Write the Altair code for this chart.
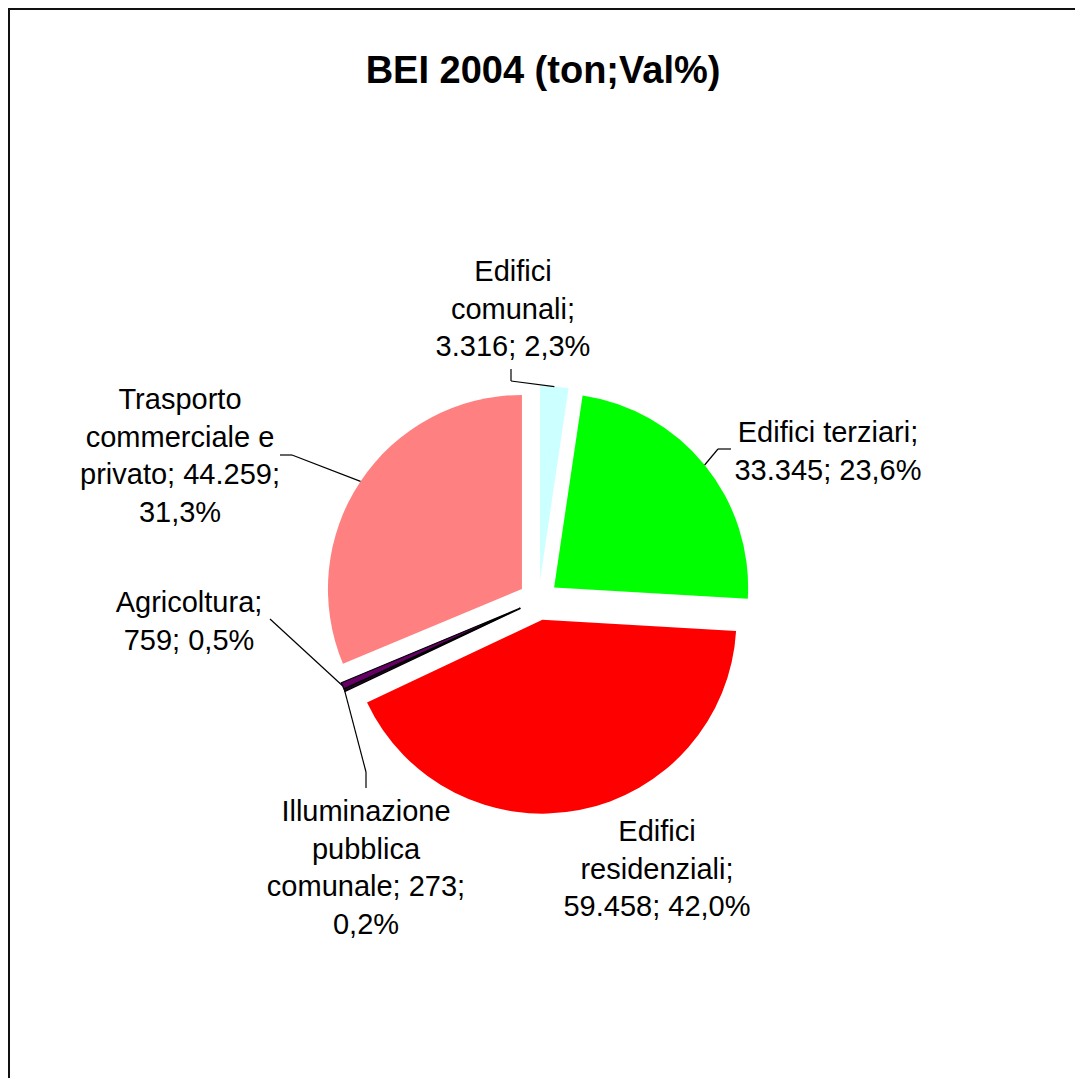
import altair as alt
import pandas as pd

# ---- data ----
categories = [
    "Edifici comunali",
    "Edifici terziari",
    "Edifici residenziali",
    "Illuminazione pubblica comunale",
    "Agricoltura",
    "Trasporto commerciale e privato",
]
values = [3316, 33345, 59458, 273, 759, 44259]
label_lines = [
    ["Edifici", "comunali;", "3.316; 2,3%"],
    ["Edifici terziari;", "33.345; 23,6%"],
    ["Edifici", "residenziali;", "59.458; 42,0%"],
    ["Illuminazione", "pubblica", "comunale; 273;", "0,2%"],
    ["Agricoltura;", "759; 0,5%"],
    ["Trasporto", "commerciale e", "privato; 44.259;", "31,3%"],
]
title_text = "BEI 2004 (ton;Val%)"

# ---- styles ----
colors = ["#CCFFFF", "#00FF00", "#FF0000", "#330033", "#660066", "#FF8080"]
outline = [0, 0, 0, 1.2, 1.2, 0]

# ---- layout (page pixels, page margin subtracted below) ----
OFF = 8
W, H = 1067, 1070
CX, CY = 538.6 - OFF, 600 - OFF   # pie centre
R = 194                            # pie radius
D = 20                             # explosion distance
# (centre x, first-line y) of each label block
label_xy = [(513, 272), (828, 433), (657, 832), (366, 812), (189, 603), (180, 400)]
leader_start = [(511, 369), (731, 449), (None, None), (366, 788), (270, 619), (280, 455)]
leader_elbow = [(511, 381), (718, 449), (None, None), (366, 772), (270, 619), (292, 455)]


def sh(v):
    return None if v is None else v - OFF


df = pd.DataFrame({
    "cat": categories,
    "value": values,
    "order": list(range(len(categories))),
    "label": ["\n".join(l) for l in label_lines],
    "outline": outline,
    "tx": [sh(p[0]) for p in label_xy],
    "ty": [sh(p[1]) for p in label_xy],
    "lx0": [sh(p[0]) for p in leader_start],
    "ly0": [sh(p[1]) for p in leader_start],
    "lx1": [sh(p[0]) for p in leader_elbow],
    "ly1": [sh(p[1]) for p in leader_elbow],
})

base = (
    alt.Chart(df)
    .transform_window(cum="sum(value)", sort=[alt.SortField("order")], frame=[None, 0])
    .transform_joinaggregate(total="sum(value)")
    .transform_calculate(
        a0="2*PI*(datum.cum - datum.value)/datum.total",
        a1="2*PI*datum.cum/datum.total",
    )
    .transform_calculate(mid="(datum.a0 + datum.a1)/2")
    .transform_calculate(
        px=f"{CX} + {D}*sin(datum.mid)",
        py=f"{CY} - {D}*cos(datum.mid)",
        ax=f"{CX} + {D + R}*sin(datum.mid)",
        ay=f"{CY} - {D + R}*cos(datum.mid)",
    )
)

pie = base.mark_arc(outerRadius=R, stroke="black").encode(
    theta=alt.Theta("a0:Q", scale=None),
    theta2="a1:Q",
    x=alt.X("px:Q", scale=None, axis=None),
    y=alt.Y("py:Q", scale=None, axis=None),
    color=alt.Color("cat:N", scale=alt.Scale(domain=categories, range=colors), legend=None),
    strokeWidth=alt.StrokeWidth("outline:Q", scale=None),
)

lead1 = base.transform_filter("isValid(datum.lx0)").mark_rule(color="black", strokeWidth=1.2).encode(
    x=alt.X("lx0:Q", scale=None, axis=None),
    y=alt.Y("ly0:Q", scale=None, axis=None),
    x2="lx1:Q",
    y2="ly1:Q",
)
lead2 = base.transform_filter("isValid(datum.lx0)").mark_rule(color="black", strokeWidth=1.2).encode(
    x=alt.X("lx1:Q", scale=None, axis=None),
    y=alt.Y("ly1:Q", scale=None, axis=None),
    x2="ax:Q",
    y2="ay:Q",
)

labels = base.mark_text(
    font="Liberation Sans", fontSize=29, lineHeight=37.5, lineBreak="\n",
    align="center", baseline="middle", color="black",
).encode(
    x=alt.X("tx:Q", scale=None, axis=None),
    y=alt.Y("ty:Q", scale=None, axis=None),
    text="label:N",
)

title = alt.Chart(pd.DataFrame({"t": [title_text]})).mark_text(
    font="Liberation Sans", fontSize=38, fontWeight="bold", align="center",
    baseline="alphabetic", color="black",
).encode(x=alt.value(543 - OFF), y=alt.value(83 - OFF), text="t:N")

frame_top = alt.Chart(pd.DataFrame({"k": [0]})).mark_rule(color="#111111", strokeWidth=2).encode(
    x=alt.value(0), x2=alt.value(W), y=alt.value(1)
)
frame_left = alt.Chart(pd.DataFrame({"k": [0]})).mark_rule(color="#111111", strokeWidth=2).encode(
    x=alt.value(1), y=alt.value(0), y2=alt.value(H)
)

chart = (
    alt.layer(frame_top, frame_left, pie, lead1, lead2, labels, title)
    .properties(width=W, height=H, autosize="none", padding=0)
    .configure_view(stroke=None)
)

chart.save("out.html", embed_options={"renderer": "svg", "actions": False})
